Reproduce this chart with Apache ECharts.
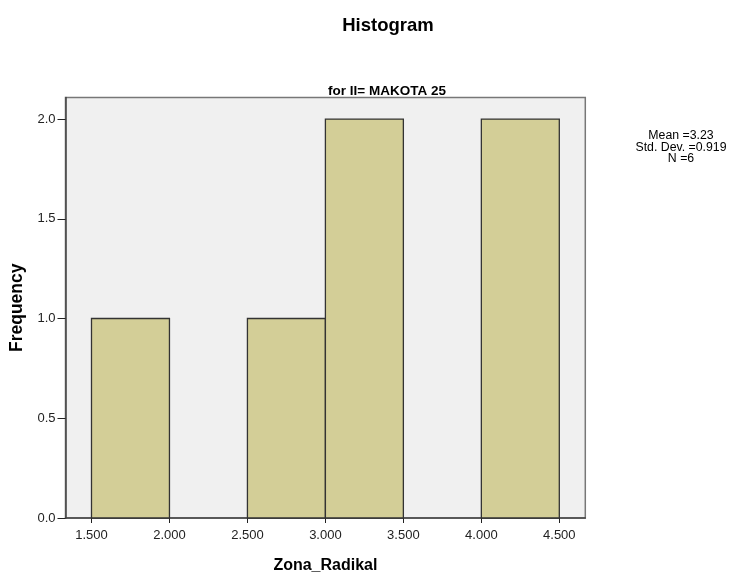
<!DOCTYPE html>
<html>
<head>
<meta charset="utf-8">
<script src="https://cdn.jsdelivr.net/npm/echarts@6/dist/echarts.min.js"></script>
<style>html,body{margin:0;padding:0;background:#fff}#c{width:731px;height:579px}</style>
</head>
<body>
<div id="c"></div>
<script>
const binStart = [1.5, 2.0, 2.5, 3.0, 3.5, 4.0];
const binEnd = [2.0, 2.5, 3.0, 3.5, 4.0, 4.5];
const frequency = [1, 0, 1, 2, 0, 2];
const xTicks = [1.5, 2.0, 2.5, 3.0, 3.5, 4.0, 4.5];
const yTicks = [0, 0.5, 1.0, 1.5, 2.0];
const statsLines = ['Mean =3.23', 'Std. Dev. =0.919', 'N =6'];

const FONT = '"Liberation Sans", Arial, sans-serif';
const chart = echarts.init(document.getElementById('c'), null, {renderer: 'canvas'});
const data = binStart.map((s, i) => [s, binEnd[i], frequency[i]]);

chart.setOption({
  animation: false,
  backgroundColor: '#fff',
  title: [
    {text: 'Histogram', left: 383, top: 11, textAlign: 'center',
     textStyle: {fontFamily: FONT, fontSize: 18.5, fontWeight: 'bold', color: '#000'}},
    {text: 'for II= MAKOTA 25', left: 382, top: 79, textAlign: 'center',
     textStyle: {fontFamily: FONT, fontSize: 13.5, fontWeight: 'bold', color: '#000'}},
    {text: statsLines.join('\n'), left: 676, top: 125, textAlign: 'center',
     textStyle: {fontFamily: FONT, fontSize: 12.3, fontWeight: 'normal', color: '#000', lineHeight: 11.5, align: 'center'}}
  ],
  grid: {left: 65.5, top: 97.5, right: 145.7, bottom: 61, show: true,
         backgroundColor: '#f0f0f0', borderColor: '#777', borderWidth: 1.5},
  xAxis: {
    type: 'value', min: 1.5 - 1/6, max: 4.5 + 1/6,
    name: 'Zona_Radikal', nameLocation: 'middle', nameGap: 40,
    nameTextStyle: {fontFamily: FONT, fontSize: 16, fontWeight: 'bold', color: '#000'},
    axisLine: {show: true, lineStyle: {color: '#444', width: 1.5}},
    axisTick: {show: true, length: 5, customValues: xTicks, lineStyle: {color: '#222', width: 1}},
    axisLabel: {customValues: xTicks, formatter: v => v.toFixed(3), margin: 11,
                fontFamily: FONT, fontSize: 13, color: '#222'},
    splitLine: {show: false}
  },
  yAxis: {
    type: 'value', min: 0, max: 2.108,
    name: 'Frequency', nameLocation: 'middle', nameGap: 36.5,
    nameTextStyle: {fontFamily: FONT, fontSize: 17.5, fontWeight: 'bold', color: '#000'},
    axisLine: {show: true, lineStyle: {color: '#444', width: 1.5}},
    axisTick: {show: true, length: 8, customValues: yTicks, lineStyle: {color: '#222', width: 1}},
    axisLabel: {customValues: yTicks, formatter: v => v.toFixed(1), margin: 10,
                fontFamily: FONT, fontSize: 13, color: '#222'},
    splitLine: {show: false}
  },
  series: [{
    type: 'custom',
    data: data,
    encode: {x: [0, 1], y: 2},
    renderItem: function (params, api) {
      const h = api.value(2);
      if (!h) return null;
      const p0 = api.coord([api.value(0), 0]);
      const p1 = api.coord([api.value(1), h]);
      return {
        type: 'rect',
        shape: {x: p0[0], y: p1[1], width: p1[0] - p0[0], height: p0[1] - p1[1]},
        style: {fill: '#d3ce97', stroke: '#333', lineWidth: 1.3}
      };
    }
  }]
});
</script>
</body>
</html>
